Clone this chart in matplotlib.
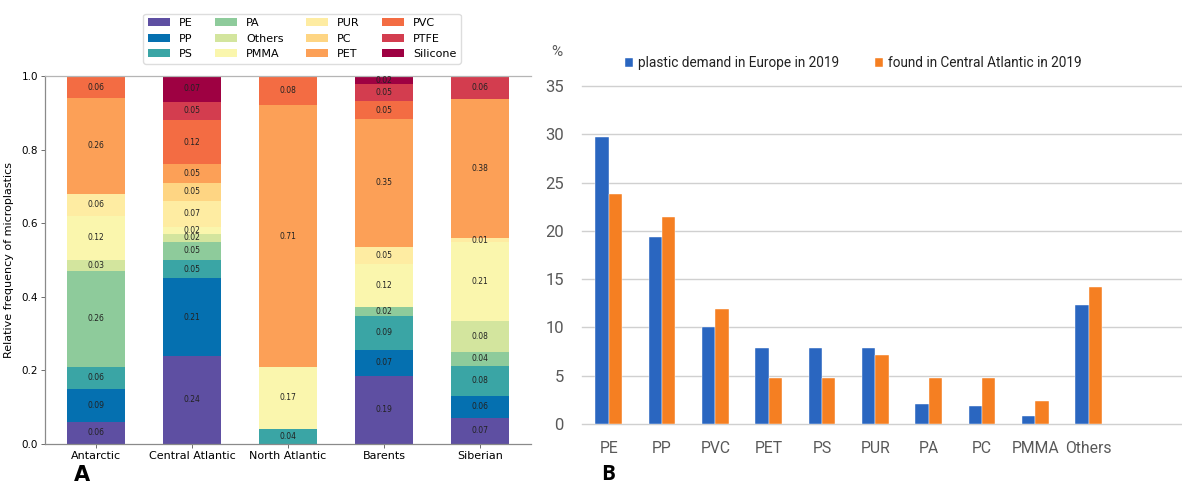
import matplotlib
matplotlib.use("Agg")
import matplotlib.pyplot as plt
import numpy as np

# ---------------- Panel A data ----------------
regions = ["Antarctic", "Central Atlantic", "North Atlantic", "Barents", "Siberian"]
polymers = ["PE", "PP", "PS", "PA", "Others", "PMMA", "PUR", "PC", "PET", "PVC", "PTFE", "Silicone"]
poly_colors = ["#5e4fa2", "#0570b0", "#3aa5a5", "#8ecb9b", "#d3e59e", "#faf6ad",
               "#feeca2", "#fed583", "#fca057", "#f36c43", "#d33d4f", "#9e0142"]

freq_PE       = [0.06, 0.24, 0.00, 0.186, 0.072]
freq_PP       = [0.09, 0.21, 0.00, 0.069, 0.058]
freq_PS       = [0.06, 0.05, 0.04, 0.094, 0.083]
freq_PA       = [0.26, 0.05, 0.00, 0.023, 0.038]
freq_Others   = [0.03, 0.02, 0.00, 0.000, 0.083]
freq_PMMA     = [0.12, 0.02, 0.17, 0.117, 0.214]
freq_PUR      = [0.06, 0.07, 0.00, 0.047, 0.012]
freq_PC       = [0.00, 0.05, 0.00, 0.000, 0.000]
freq_PET      = [0.26, 0.05, 0.71, 0.348, 0.378]
freq_PVC      = [0.06, 0.12, 0.08, 0.047, 0.000]
freq_PTFE     = [0.00, 0.05, 0.00, 0.047, 0.062]
freq_Silicone = [0.00, 0.07, 0.00, 0.022, 0.000]

freq_series = [freq_PE, freq_PP, freq_PS, freq_PA, freq_Others, freq_PMMA,
               freq_PUR, freq_PC, freq_PET, freq_PVC, freq_PTFE, freq_Silicone]

# ---------------- Panel B data ----------------
b_categories = ["PE", "PP", "PVC", "PET", "PS", "PUR", "PA", "PC", "PMMA", "Others"]
demand_europe = [29.7, 19.4, 10.0, 7.9, 7.9, 7.9, 2.1, 1.9, 0.8, 12.3]
found_central_atlantic = [23.8, 21.4, 11.9, 4.8, 4.8, 7.1, 4.8, 4.8, 2.4, 14.2]
b_yticks = [0, 5, 10, 15, 20, 25, 30, 35]

W, H = 1182, 484
fig = plt.figure(figsize=(W / 100, H / 100), dpi=100)

# ================= Panel A =================
axA = fig.add_axes([45 / W, 1 - 444 / H, (531 - 45) / W, (444 - 76) / H])
x = np.arange(len(regions))
bottom = np.zeros(len(regions))
for name, vals, col in zip(polymers, freq_series, poly_colors):
    vals = np.array(vals)
    axA.bar(x, vals, 0.6, bottom=bottom, color=col, label=name)
    for xi, v, b in zip(x, vals, bottom):
        if v > 0:
            axA.text(xi, b + v / 2, f"{v:.2f}", ha="center", va="center",
                     fontsize=5.5, color="#222222")
    bottom += vals

axA.set_ylim(0, 1.0)
axA.set_xticks(x)
axA.set_xticklabels(regions, fontsize=8)
axA.set_yticks([0, 0.2, 0.4, 0.6, 0.8, 1.0])
axA.set_yticklabels(["0.0", "0.2", "0.4", "0.6", "0.8", "1.0"], fontsize=7.5)
axA.tick_params(axis="both", length=3, width=0.6, color="#555555", pad=2)
axA.set_ylabel("Relative frequency of microplastics", fontsize=8)
axA.yaxis.set_label_coords(-0.064, 0.5)
for s in ["left", "bottom", "top"]:
    axA.spines[s].set_color("#8a8a8a")
    axA.spines[s].set_linewidth(0.9)
axA.spines["top"].set_color("#b5b5b5")
axA.spines["right"].set_visible(False)

axA.legend(loc="upper center", bbox_to_anchor=(302 / W, 1 - 8 / H),
           bbox_transform=fig.transFigure, ncol=4, fontsize=8,
           labelspacing=0.5, columnspacing=2.0, handlelength=2.0,
           frameon=True, fancybox=True, framealpha=1, edgecolor="#dddddd",
           borderpad=0.4)

fig.text(82 / W, 1 - 475 / H, "A", fontsize=15, fontweight="bold",
         ha="center", va="center")

# ================= Panel B =================
font_b = "Roboto"
grey = "#595959"
axB = fig.add_axes([582 / W, 1 - 424 / H, (W - 582) / W, (424 - 86) / H])
xb = np.arange(len(b_categories))
bw = 0.253
axB.bar(xb - bw / 2, demand_europe, bw, color="#2a66c0", edgecolor="white",
        linewidth=0.3, label="plastic demand in Europe in 2019", zorder=3)
axB.bar(xb + bw / 2, found_central_atlantic, bw, color="#f57f22", edgecolor="white",
        linewidth=0.3, label="found in Central Atlantic in 2019", zorder=3)
axB.set_ylim(0, 35)
axB.set_xlim(-0.5, 10.75)
axB.set_yticks(b_yticks)
axB.set_yticklabels([str(v) for v in b_yticks], fontsize=12, color=grey,
                    family=font_b)
axB.set_xticks(xb)
axB.set_xticklabels(b_categories, fontsize=11.3, color=grey, family=font_b)
axB.tick_params(axis="y", length=0, pad=13)
axB.tick_params(axis="x", length=0, pad=12)
axB.grid(axis="y", color="#d0d0d0", linewidth=1.0, zorder=0)
axB.set_axisbelow(True)
for s in axB.spines.values():
    s.set_visible(False)
for gl in axB.get_ygridlines():
    gl.set_clip_on(False)

fig.text(557 / W, 1 - 52 / H, "%", fontsize=11, color=grey, family=font_b,
         ha="center", va="center")
axB.legend(loc="center left", bbox_to_anchor=(613 / W, 1 - 63 / H),
           bbox_transform=fig.transFigure, ncol=2, frameon=False,
           prop={"family": font_b, "size": 9.8}, handlelength=0.6,
           handleheight=0.6, handletextpad=0.35, columnspacing=2.6,
           labelcolor="#222222")

fig.text(608 / W, 1 - 475 / H, "B", fontsize=15, fontweight="bold",
         family="Open Sans", ha="center", va="center")

fig.savefig("out.png", dpi=100)
